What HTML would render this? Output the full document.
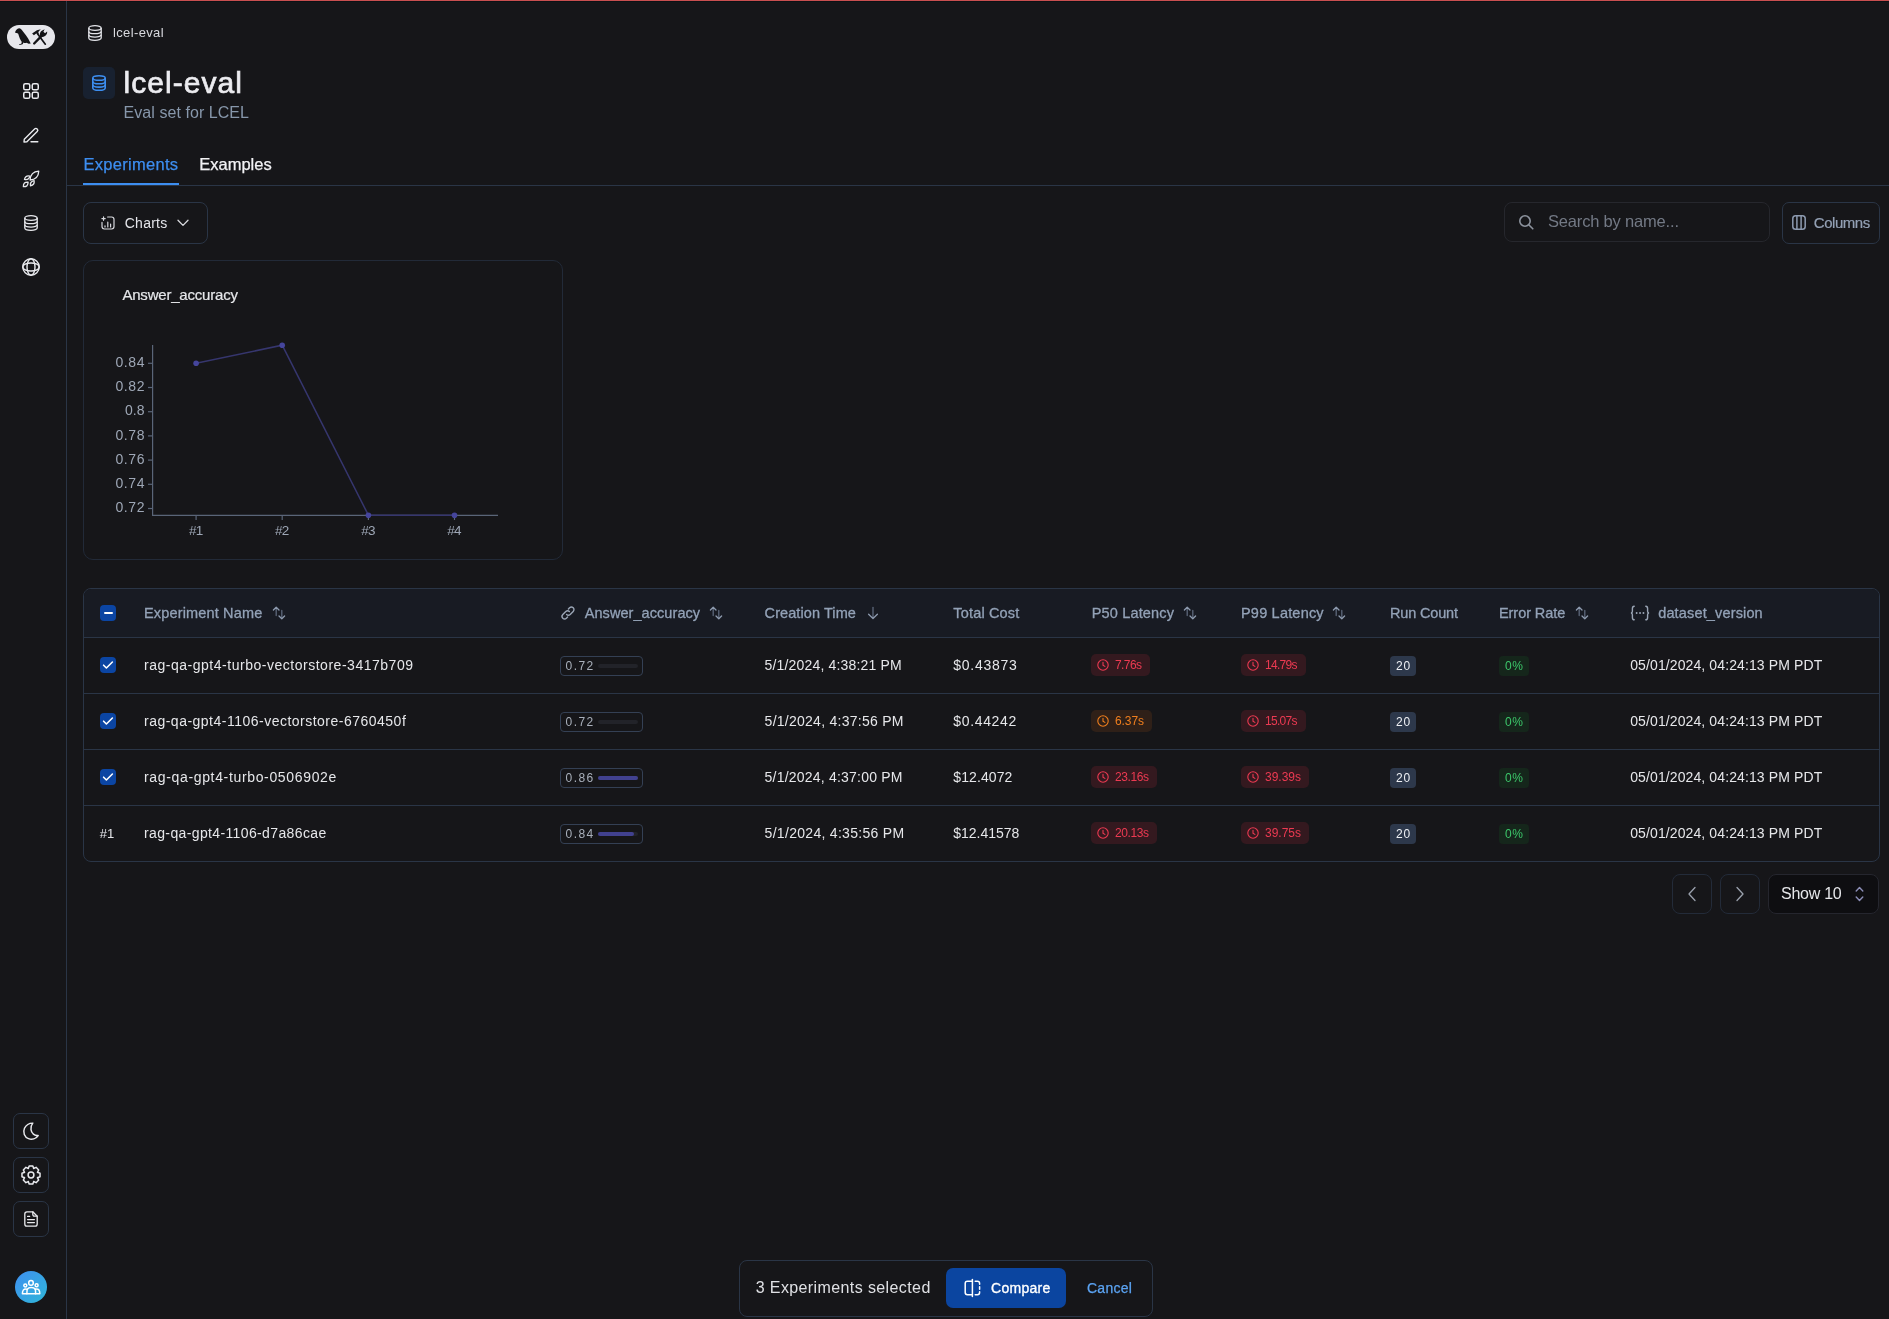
<!DOCTYPE html>
<html><head><meta charset="utf-8"><title>lcel-eval</title>
<style>
*{box-sizing:border-box;margin:0;padding:0}
html,body{width:1889px;height:1319px;overflow:hidden;background:#161619;font-family:"Liberation Sans",sans-serif;color:#e6e7eb}
#root{position:absolute;left:0;top:0;width:1889px;height:1319px;will-change:transform}
.a{position:absolute}
.t{white-space:nowrap;line-height:1}
svg{display:block;overflow:visible}
</style></head><body><div id="root">
<div class="a" style="left:0;top:0;width:1889px;height:1px;background:#c94f50"></div>
<div class="a" style="left:0;top:1px;width:1889px;height:1px;background:#0c1115"></div>
<div class="a" style="left:66px;top:1px;width:1px;height:1318px;background:#2a3546"></div>
<div class="a" style="left:7px;top:25px;width:48px;height:24px;border-radius:12px;background:#e7e7ec"></div>
<svg class="a" style="left:5px;top:22px" width="52" height="30" viewBox="0 0 1889 1090">
<g fill="#141417">
<path d="M365 385 C380 300 440 230 510 225 C570 225 610 280 640 330 L760 480 C820 560 870 650 935 780 L860 790 L780 755 C750 770 700 765 665 745 L650 800 L610 815 L525 835 L510 805 L590 790 L610 725 C555 660 520 560 480 430 C460 400 430 392 400 398 Z"/>
<path d="M985 420 L1160 300 L1300 262 L1240 330 L1205 372 L1235 410 L1185 455 L1145 412 L1050 485 Z"/>
<path d="M1285 525 C1240 440 1280 340 1370 300 L1440 262 L1395 350 L1455 410 L1530 345 C1545 445 1470 520 1365 545 Z"/>
</g>
<g stroke="#141417" stroke-linecap="round">
<path d="M1175 420 L1465 805" stroke-width="62"/>
<path d="M1060 780 L1320 515" stroke-width="85"/>
</g>
</svg>
<svg class="a" style="left:23px;top:83px" width="16" height="16" viewBox="0 0 16 16" fill="none" stroke="#e9eaee" stroke-width="1.5"><rect x="0.75" y="0.75" width="6" height="6" rx="1.6"/><rect x="9.25" y="0.75" width="6" height="6" rx="1.6"/><rect x="0.75" y="9.25" width="6" height="6" rx="1.6"/><rect x="9.25" y="9.25" width="6" height="6" rx="1.6"/></svg>
<svg class="a" style="left:23px;top:127px" width="16" height="16" viewBox="0 0 16 16" fill="none" stroke="#e9eaee" stroke-width="1.4" stroke-linecap="round" stroke-linejoin="round"><path d="M1 15 L1.3 12.2 L11.6 1.9 C12.3 1.2 13.5 1.2 14.2 1.9 C14.9 2.6 14.9 3.8 14.2 4.5 L3.9 14.8 Z"/><path d="M8 14.8 H14.8"/></svg>
<svg class="a" style="left:19px;top:167px" width="24" height="24" viewBox="0 0 1319 1319" fill="none" stroke="#e9eaee" stroke-width="72" stroke-linejoin="round"><path d="M610 715 Q1062 682 1085 230 Q633 263 610 715 Z"/><path d="M300 680 Q537 736 600 500 Q363 444 300 680 Z"/><path d="M630 1030 Q868 989 830 750 Q592 791 630 1030 Z"/><path d="M240 1080 Q509 1099 500 830 Q231 811 240 1080 Z"/></svg>
<svg class="a" style="left:24px;top:215px" width="14" height="16" viewBox="0 0 14 16" preserveAspectRatio="none" fill="none" stroke="#e9eaee" stroke-width="1.3"><ellipse cx="7" cy="3" rx="6.2" ry="2.3"/><path d="M0.8 3 V13 C0.8 14.3 3.6 15.3 7 15.3 C10.4 15.3 13.2 14.3 13.2 13 V3"/><path d="M0.8 6.4 C0.8 7.7 3.6 8.7 7 8.7 C10.4 8.7 13.2 7.7 13.2 6.4"/><path d="M0.8 9.8 C0.8 11.1 3.6 12.1 7 12.1 C10.4 12.1 13.2 11.1 13.2 9.8"/></svg>
<svg class="a" style="left:22px;top:258px" width="18" height="18" viewBox="0 0 18 18" fill="none" stroke="#e9eaee" stroke-width="1.4"><circle cx="9" cy="9" r="8.2"/><ellipse cx="9" cy="9" rx="4" ry="8.2"/><ellipse cx="9" cy="9" rx="8.2" ry="4"/></svg>
<div class="a" style="left:13px;top:1113px;width:36px;height:36px;border:1px solid #2a3546;border-radius:7px"></div>
<div class="a" style="left:13px;top:1157px;width:36px;height:36px;border:1px solid #2a3546;border-radius:7px"></div>
<div class="a" style="left:13px;top:1201px;width:36px;height:36px;border:1px solid #2a3546;border-radius:7px"></div>
<svg class="a" style="left:22px;top:1122px" width="18" height="18" viewBox="0 0 16 16" fill="none" stroke="#e9eaee" stroke-width="1.3" stroke-linejoin="round"><path d="M9.6 1.0 C6.6 1.0 3.6 2.6 2.2 5.6 C0.6 9.2 2.2 13.4 5.8 14.8 C8.8 16.0 12.4 15.0 14.4 12.0 C11.2 12.4 8.4 10.0 8.0 6.8 C7.7 4.6 8.4 2.4 9.6 1.0 Z"/></svg>
<svg class="a" style="left:21px;top:1165px" width="20" height="20" viewBox="0 0 20 20" fill="none" stroke="#e9eaee" stroke-width="1.5" stroke-linejoin="round"><circle cx="10" cy="10" r="2.9"/><path d="M16.45 7.27 L19.02 8.17 L19.02 11.83 L16.45 12.73 L16.49 12.63 L17.67 15.08 L15.08 17.67 L12.63 16.49 L12.73 16.45 L11.83 19.02 L8.17 19.02 L7.27 16.45 L7.37 16.49 L4.92 17.67 L2.33 15.08 L3.51 12.63 L3.55 12.73 L0.98 11.83 L0.98 8.17 L3.55 7.27 L3.51 7.37 L2.33 4.92 L4.92 2.33 L7.37 3.51 L7.27 3.55 L8.17 0.98 L11.83 0.98 L12.73 3.55 L12.63 3.51 L15.08 2.33 L17.67 4.92 L16.49 7.37 Z"/></svg>
<svg class="a" style="left:24px;top:1211px" width="14" height="16" viewBox="0 0 14 16" fill="none" stroke="#e9eaee" stroke-width="1.3" stroke-linejoin="round" stroke-linecap="round"><path d="M8.8 0.8 H3 C1.8 0.8 0.8 1.8 0.8 3 V13 C0.8 14.2 1.8 15.2 3 15.2 H11 C12.2 15.2 13.2 14.2 13.2 13 V5.2 Z"/><path d="M8.8 0.8 V3.6 C8.8 4.5 9.5 5.2 10.4 5.2 H13.2"/><path d="M3.6 5.4 H5.6 M3.6 8.6 H10.4 M3.6 11.6 H10.4"/></svg>
<div class="a" style="left:15px;top:1271px;width:32px;height:32px;border-radius:16px;background:linear-gradient(135deg,#3f8ff0,#2fb6d8)"></div>
<svg class="a" style="left:21px;top:1278px" width="20" height="18" viewBox="0 0 20 18" fill="none" stroke="#ffffff" stroke-width="1.5" stroke-linejoin="round" stroke-linecap="round"><circle cx="10" cy="4.9" r="2.3"/><circle cx="4.3" cy="7.4" r="1.5"/><circle cx="15.6" cy="7.3" r="1.5"/><path d="M1.4 15.7 H18.8 C18.8 12.5 17.6 11.0 15.6 11.0 C15.0 11.0 14.6 11.1 14.3 11.3 C13.6 10.3 12.0 9.6 10.2 9.6 C8.4 9.6 6.9 10.3 6.3 11.3 C6.0 11.1 5.5 11.0 4.8 11.0 C2.7 11.0 1.4 12.5 1.4 15.7 Z"/><path d="M6.3 11.3 C6.0 12.2 5.9 14.0 5.9 15.7 M14.3 11.3 C14.6 12.2 14.6 14 14.6 15.7"/></svg>
<svg class="a" style="left:88px;top:25px" width="14" height="16" viewBox="0 0 14 16" preserveAspectRatio="none" fill="none" stroke="#e4e5ea" stroke-width="1.3"><ellipse cx="7" cy="3" rx="6.2" ry="2.3"/><path d="M0.8 3 V13 C0.8 14.3 3.6 15.3 7 15.3 C10.4 15.3 13.2 14.3 13.2 13 V3"/><path d="M0.8 6.4 C0.8 7.7 3.6 8.7 7 8.7 C10.4 8.7 13.2 7.7 13.2 6.4"/><path d="M0.8 9.8 C0.8 11.1 3.6 12.1 7 12.1 C10.4 12.1 13.2 11.1 13.2 9.8"/></svg>
<div class="a" style="left:83px;top:67px;width:32px;height:32px;border-radius:5px;background:#182130"></div>
<svg class="a" style="left:92px;top:75px" width="14" height="16" viewBox="0 0 14 16" preserveAspectRatio="none" fill="none" stroke="#3d8ef0" stroke-width="1.6"><ellipse cx="7" cy="3" rx="6.2" ry="2.3"/><path d="M0.8 3 V13 C0.8 14.3 3.6 15.3 7 15.3 C10.4 15.3 13.2 14.3 13.2 13 V3"/><path d="M0.8 6.4 C0.8 7.7 3.6 8.7 7 8.7 C10.4 8.7 13.2 7.7 13.2 6.4"/><path d="M0.8 9.8 C0.8 11.1 3.6 12.1 7 12.1 C10.4 12.1 13.2 11.1 13.2 9.8"/></svg>
<div class="a" style="left:67px;top:185px;width:1822px;height:1px;background:#2a3546"></div>
<div class="a" style="left:83px;top:183px;width:96px;height:2px;background:#3d8ef0"></div>
<div class="a" style="left:83px;top:202px;width:125px;height:42px;border:1px solid #2a3546;border-radius:8px"></div>
<svg class="a" style="left:101px;top:216px" width="14" height="14" viewBox="0 0 14 14" fill="none" stroke="#d8d9de" stroke-width="1.2" stroke-linecap="round"><path d="M0.9 2.6 H4.2 M2.55 0.9 V4.3"/><path d="M6.6 1 H10.6 C12 1 13 2 13 3.4 V10.6 C13 12 12 13 10.6 13 H3.4 C2 13 1 12 1 10.6 V6.4"/><path d="M4 9.8 V11 M6.8 6.2 V11 M9.6 8.0 V11"/></svg>
<svg class="a" style="left:177px;top:219px" width="12" height="8" viewBox="0 0 12 8" fill="none" stroke="#d8d9de" stroke-width="1.3" stroke-linecap="round" stroke-linejoin="round"><path d="M1 1.2 L6 6.4 L11 1.2"/></svg>
<div class="a" style="left:1504px;top:202px;width:266px;height:40px;border:1px solid #26272d;border-radius:8px"></div>
<svg class="a" style="left:1518px;top:214px" width="16" height="16" viewBox="0 0 16 16" fill="none" stroke="#8d939e" stroke-width="1.6" stroke-linecap="round"><circle cx="7" cy="7" r="5.2"/><path d="M11 11 L14.8 14.8"/></svg>
<div class="a" style="left:1782px;top:202px;width:98px;height:42px;border:1px solid #2a3546;border-radius:7px"></div>
<svg class="a" style="left:1792px;top:215px" width="14" height="15" viewBox="0 0 14 15" fill="none" stroke="#8d9ab0" stroke-width="1.5"><rect x="0.8" y="0.8" width="12.4" height="13.4" rx="2.8"/><path d="M4.9 0.8 V14.2 M9.1 0.8 V14.2"/></svg>
<div class="a" style="left:83px;top:260px;width:480px;height:300px;border:1px solid #222a38;border-radius:10px"></div>
<svg class="a" style="left:0;top:0" width="600" height="600" viewBox="0 0 600 600">
<g stroke="#5a6578" stroke-width="1.2" fill="none">
<path d="M152.6 345 V515.4 H498"/>
<path d="M148 363.3 H152.6"/><path d="M148 387.5 H152.6"/><path d="M148 411.7 H152.6"/><path d="M148 435.9 H152.6"/><path d="M148 460.1 H152.6"/><path d="M148 484.3 H152.6"/><path d="M148 508.5 H152.6"/>
<path d="M196.1 515.4 V520"/><path d="M282.2 515.4 V520"/><path d="M368.4 515.4 V520"/><path d="M454.5 515.4 V520"/>
</g>
<polyline points="196.1,363.3 282.2,345.2 368.4,515.2 454.5,515.2" fill="none" stroke="#36366e" stroke-width="1.5"/>
<g fill="#45459c">
<circle cx="196.1" cy="363.3" r="2.8"/><circle cx="282.2" cy="345.2" r="2.8"/><circle cx="368.4" cy="515.2" r="2.8"/><circle cx="454.5" cy="515.2" r="2.8"/>
</g>
</svg>
<div class="a" style="left:83px;top:588px;width:1797px;height:274px;border:1px solid #2a3546;border-radius:8px;overflow:hidden"><div style="height:49px;background:#181b23;border-bottom:1px solid #2a3546"></div></div>
<div class="a" style="left:84px;top:693px;width:1795px;height:1px;background:#2a3546"></div>
<div class="a" style="left:84px;top:749px;width:1795px;height:1px;background:#2a3546"></div>
<div class="a" style="left:84px;top:805px;width:1795px;height:1px;background:#2a3546"></div>
<div class="a" style="left:100px;top:605px;width:16px;height:16px;border-radius:4px;background:#0b45a3"></div>
<div class="a" style="left:103.5px;top:612px;width:9px;height:1.6px;border-radius:1px;background:#ffffff"></div>
<svg class="a" style="left:272px;top:606px" width="14" height="14" viewBox="0 0 14 14" fill="none" stroke-width="1.3" stroke-linecap="round" stroke-linejoin="round"><path d="M4.2 9.6 V2 M9.8 4.4 V12" stroke="#5d687b"/><path d="M1.4 4 L4.2 1.2 L7 4 M7 10 L9.8 12.8 L12.6 10" stroke="#8d9aae"/></svg>
<svg class="a" style="left:560px;top:605px" width="16" height="16" viewBox="0 0 16 16" fill="none" stroke="#9aa5b5" stroke-width="1.4" stroke-linecap="round"><path d="M6.6 9.4 C7.6 10.4 9.2 10.4 10.2 9.4 L13.2 6.4 C14.2 5.4 14.2 3.8 13.2 2.8 C12.2 1.8 10.6 1.8 9.6 2.8 L8.4 4"/><path d="M9.4 6.6 C8.4 5.6 6.8 5.6 5.8 6.6 L2.8 9.6 C1.8 10.6 1.8 12.2 2.8 13.2 C3.8 14.2 5.4 14.2 6.4 13.2 L7.6 12"/></svg>
<svg class="a" style="left:709px;top:606px" width="14" height="14" viewBox="0 0 14 14" fill="none" stroke-width="1.3" stroke-linecap="round" stroke-linejoin="round"><path d="M4.2 9.6 V2 M9.8 4.4 V12" stroke="#5d687b"/><path d="M1.4 4 L4.2 1.2 L7 4 M7 10 L9.8 12.8 L12.6 10" stroke="#8d9aae"/></svg>
<svg class="a" style="left:866px;top:606px" width="14" height="14" viewBox="0 0 14 14" fill="none" stroke-width="1.3" stroke-linecap="round" stroke-linejoin="round"><path d="M7 1.4 V11.6" stroke="#5d687b"/><path d="M2.6 8.2 L7 12.5 L11.4 8.2" stroke="#8d9aae"/></svg>
<svg class="a" style="left:1183px;top:606px" width="14" height="14" viewBox="0 0 14 14" fill="none" stroke-width="1.3" stroke-linecap="round" stroke-linejoin="round"><path d="M4.2 9.6 V2 M9.8 4.4 V12" stroke="#5d687b"/><path d="M1.4 4 L4.2 1.2 L7 4 M7 10 L9.8 12.8 L12.6 10" stroke="#8d9aae"/></svg>
<svg class="a" style="left:1332px;top:606px" width="14" height="14" viewBox="0 0 14 14" fill="none" stroke-width="1.3" stroke-linecap="round" stroke-linejoin="round"><path d="M4.2 9.6 V2 M9.8 4.4 V12" stroke="#5d687b"/><path d="M1.4 4 L4.2 1.2 L7 4 M7 10 L9.8 12.8 L12.6 10" stroke="#8d9aae"/></svg>
<svg class="a" style="left:1575px;top:606px" width="14" height="14" viewBox="0 0 14 14" fill="none" stroke-width="1.3" stroke-linecap="round" stroke-linejoin="round"><path d="M4.2 9.6 V2 M9.8 4.4 V12" stroke="#5d687b"/><path d="M1.4 4 L4.2 1.2 L7 4 M7 10 L9.8 12.8 L12.6 10" stroke="#8d9aae"/></svg>
<svg class="a" style="left:1630px;top:605px" width="20" height="16" viewBox="0 0 20 16" fill="none" stroke="#9aa5b5" stroke-width="1.4" stroke-linecap="round"><path d="M4.2 1.2 C2.6 1.2 2.4 2.2 2.4 3.6 V6.2 C2.4 7.2 1.8 8 0.9 8 C1.8 8 2.4 8.8 2.4 9.8 V12.4 C2.4 13.8 2.6 14.8 4.2 14.8"/><path d="M15.8 1.2 C17.4 1.2 17.6 2.2 17.6 3.6 V6.2 C17.6 7.2 18.2 8 19.1 8 C18.2 8 17.6 8.8 17.6 9.8 V12.4 C17.6 13.8 17.4 14.8 15.8 14.8"/><path d="M6.6 8 H6.7 M10 8 H10.1 M13.4 8 H13.5" stroke-width="1.8"/></svg>
<div class="a" style="left:100px;top:657px;width:16px;height:16px;border-radius:4px;background:#0b45a3"></div>
<svg class="a" style="left:100px;top:657px" width="16" height="16" viewBox="0 0 16 16" fill="none" stroke="#ffffff" stroke-width="1.6" stroke-linecap="round" stroke-linejoin="round"><path d="M3.6 8.2 L6.4 11 L12.4 5"/></svg>
<div class="a" style="left:560px;top:656px;width:83px;height:20px;border:1px solid #344054;border-radius:4px"></div>
<div class="a" style="left:598px;top:664px;width:40px;height:4px;border-radius:2px;background:#222329"></div>
<div class="a" style="left:1091px;top:654px;width:59px;height:22px;border-radius:5px;background:#34191f"></div>
<svg class="a" style="left:1097px;top:659px" width="12" height="12" viewBox="0 0 12 12" fill="none" stroke="#ec3a52" stroke-width="1.1" stroke-linecap="round" stroke-linejoin="round"><circle cx="6" cy="6" r="5.2"/><path d="M6 3.2 V6.2 L7.9 7.4"/></svg>
<div class="a" style="left:1241px;top:654px;width:64.5px;height:22px;border-radius:5px;background:#34191f"></div>
<svg class="a" style="left:1247px;top:659px" width="12" height="12" viewBox="0 0 12 12" fill="none" stroke="#ec3a52" stroke-width="1.1" stroke-linecap="round" stroke-linejoin="round"><circle cx="6" cy="6" r="5.2"/><path d="M6 3.2 V6.2 L7.9 7.4"/></svg>
<div class="a" style="left:1390px;top:656px;width:26px;height:20px;border-radius:4px;background:#2d384b"></div>
<div class="a" style="left:1499px;top:656px;width:30px;height:20px;border-radius:4px;background:#15261b"></div>
<div class="a" style="left:100px;top:713px;width:16px;height:16px;border-radius:4px;background:#0b45a3"></div>
<svg class="a" style="left:100px;top:713px" width="16" height="16" viewBox="0 0 16 16" fill="none" stroke="#ffffff" stroke-width="1.6" stroke-linecap="round" stroke-linejoin="round"><path d="M3.6 8.2 L6.4 11 L12.4 5"/></svg>
<div class="a" style="left:560px;top:712px;width:83px;height:20px;border:1px solid #344054;border-radius:4px"></div>
<div class="a" style="left:598px;top:720px;width:40px;height:4px;border-radius:2px;background:#222329"></div>
<div class="a" style="left:1091px;top:710px;width:61px;height:22px;border-radius:5px;background:#2f2018"></div>
<svg class="a" style="left:1097px;top:715px" width="12" height="12" viewBox="0 0 12 12" fill="none" stroke="#f07f1e" stroke-width="1.1" stroke-linecap="round" stroke-linejoin="round"><circle cx="6" cy="6" r="5.2"/><path d="M6 3.2 V6.2 L7.9 7.4"/></svg>
<div class="a" style="left:1241px;top:710px;width:64.5px;height:22px;border-radius:5px;background:#34191f"></div>
<svg class="a" style="left:1247px;top:715px" width="12" height="12" viewBox="0 0 12 12" fill="none" stroke="#ec3a52" stroke-width="1.1" stroke-linecap="round" stroke-linejoin="round"><circle cx="6" cy="6" r="5.2"/><path d="M6 3.2 V6.2 L7.9 7.4"/></svg>
<div class="a" style="left:1390px;top:712px;width:26px;height:20px;border-radius:4px;background:#2d384b"></div>
<div class="a" style="left:1499px;top:712px;width:30px;height:20px;border-radius:4px;background:#15261b"></div>
<div class="a" style="left:100px;top:769px;width:16px;height:16px;border-radius:4px;background:#0b45a3"></div>
<svg class="a" style="left:100px;top:769px" width="16" height="16" viewBox="0 0 16 16" fill="none" stroke="#ffffff" stroke-width="1.6" stroke-linecap="round" stroke-linejoin="round"><path d="M3.6 8.2 L6.4 11 L12.4 5"/></svg>
<div class="a" style="left:560px;top:768px;width:83px;height:20px;border:1px solid #344054;border-radius:4px"></div>
<div class="a" style="left:598px;top:776px;width:40px;height:4px;border-radius:2px;background:#222329"></div>
<div class="a" style="left:598px;top:776px;width:40.0px;height:4px;border-radius:2px;background:#41418f"></div>
<div class="a" style="left:1091px;top:766px;width:66px;height:22px;border-radius:5px;background:#34191f"></div>
<svg class="a" style="left:1097px;top:771px" width="12" height="12" viewBox="0 0 12 12" fill="none" stroke="#ec3a52" stroke-width="1.1" stroke-linecap="round" stroke-linejoin="round"><circle cx="6" cy="6" r="5.2"/><path d="M6 3.2 V6.2 L7.9 7.4"/></svg>
<div class="a" style="left:1241px;top:766px;width:68px;height:22px;border-radius:5px;background:#34191f"></div>
<svg class="a" style="left:1247px;top:771px" width="12" height="12" viewBox="0 0 12 12" fill="none" stroke="#ec3a52" stroke-width="1.1" stroke-linecap="round" stroke-linejoin="round"><circle cx="6" cy="6" r="5.2"/><path d="M6 3.2 V6.2 L7.9 7.4"/></svg>
<div class="a" style="left:1390px;top:768px;width:26px;height:20px;border-radius:4px;background:#2d384b"></div>
<div class="a" style="left:1499px;top:768px;width:30px;height:20px;border-radius:4px;background:#15261b"></div>
<div class="a" style="left:560px;top:824px;width:83px;height:20px;border:1px solid #344054;border-radius:4px"></div>
<div class="a" style="left:598px;top:832px;width:40px;height:4px;border-radius:2px;background:#222329"></div>
<div class="a" style="left:598px;top:832px;width:35.6px;height:4px;border-radius:2px;background:#41418f"></div>
<div class="a" style="left:1091px;top:822px;width:66px;height:22px;border-radius:5px;background:#34191f"></div>
<svg class="a" style="left:1097px;top:827px" width="12" height="12" viewBox="0 0 12 12" fill="none" stroke="#ec3a52" stroke-width="1.1" stroke-linecap="round" stroke-linejoin="round"><circle cx="6" cy="6" r="5.2"/><path d="M6 3.2 V6.2 L7.9 7.4"/></svg>
<div class="a" style="left:1241px;top:822px;width:68px;height:22px;border-radius:5px;background:#34191f"></div>
<svg class="a" style="left:1247px;top:827px" width="12" height="12" viewBox="0 0 12 12" fill="none" stroke="#ec3a52" stroke-width="1.1" stroke-linecap="round" stroke-linejoin="round"><circle cx="6" cy="6" r="5.2"/><path d="M6 3.2 V6.2 L7.9 7.4"/></svg>
<div class="a" style="left:1390px;top:824px;width:26px;height:20px;border-radius:4px;background:#2d384b"></div>
<div class="a" style="left:1499px;top:824px;width:30px;height:20px;border-radius:4px;background:#15261b"></div>
<div class="a" style="left:1672px;top:874px;width:40px;height:40px;border:1px solid #232b39;border-radius:8px"></div>
<div class="a" style="left:1720px;top:874px;width:40px;height:40px;border:1px solid #232b39;border-radius:8px"></div>
<svg class="a" style="left:1687px;top:886px" width="10" height="16" viewBox="0 0 10 16" fill="none" stroke="#9aa1ad" stroke-width="1.3" stroke-linecap="round" stroke-linejoin="round"><path d="M8 1.5 L2 8 L8 14.5"/></svg>
<svg class="a" style="left:1735px;top:886px" width="10" height="16" viewBox="0 0 10 16" fill="none" stroke="#9aa1ad" stroke-width="1.3" stroke-linecap="round" stroke-linejoin="round"><path d="M2 1.5 L8 8 L2 14.5"/></svg>
<div class="a" style="left:1768px;top:874px;width:111px;height:40px;border:1px solid #25262e;border-radius:8px;background:#0e0e11"></div>
<svg class="a" style="left:1855px;top:886px" width="9" height="16" viewBox="0 0 9 16" fill="none" stroke="#8d8fb8" stroke-width="1.4" stroke-linecap="round" stroke-linejoin="round"><path d="M1.2 5 L4.5 1.6 L7.8 5"/><path d="M1.2 11 L4.5 14.4 L7.8 11"/></svg>
<div class="a" style="left:739px;top:1260px;width:414px;height:57px;border:1px solid #2a3546;border-radius:8px;background:#161619"></div>
<div class="a" style="left:946px;top:1268px;width:120px;height:40px;border-radius:7px;background:#0b45a0"></div>
<svg class="a" style="left:964px;top:1279px" width="17" height="18" viewBox="0 0 17 18" fill="none" stroke="#ffffff" stroke-width="1.5" stroke-linecap="round" stroke-linejoin="round"><path d="M8.4 0.6 V17.4"/><path d="M8.4 2.2 H3.4 C2.1 2.2 1.2 3.1 1.2 4.4 V13.6 C1.2 14.9 2.1 15.8 3.4 15.8 H8.4"/><path d="M11.2 2.2 H13.4 C14.7 2.2 15.6 3.1 15.6 4.4 V5.2"/><path d="M15.6 7.8 V10.2"/><path d="M15.6 12.8 V13.6 C15.6 14.9 14.7 15.8 13.4 15.8 H11.2"/></svg>
<div class="a t" style="left:113.00px;top:26.00px;font-size:13px;font-weight:400;color:#d8d9de;letter-spacing:0.364px;">lcel-eval</div>
<div class="a t" style="left:123.50px;top:68.00px;font-size:30px;font-weight:400;color:#ececf0;letter-spacing:1.044px;-webkit-text-stroke:0.7px #ececf0;">lcel-eval</div>
<div class="a t" style="left:123.50px;top:105.00px;font-size:16px;font-weight:400;color:#8797ab;letter-spacing:0.062px;">Eval set for LCEL</div>
<div class="a t" style="left:83.50px;top:156.00px;font-size:16.5px;font-weight:400;color:#3d8ef0;letter-spacing:0.290px;-webkit-text-stroke:0.25px #3d8ef0;">Experiments</div>
<div class="a t" style="left:199.20px;top:156.00px;font-size:16.5px;font-weight:400;color:#f2f2f5;letter-spacing:0.007px;-webkit-text-stroke:0.25px #f2f2f5;">Examples</div>
<div class="a t" style="left:124.70px;top:216.00px;font-size:14px;font-weight:400;color:#e4e5ea;letter-spacing:0.273px;">Charts</div>
<div class="a t" style="left:1548.00px;top:213.00px;font-size:16.5px;font-weight:400;color:#737985;letter-spacing:-0.182px;">Search by name...</div>
<div class="a t" style="left:1813.80px;top:215.00px;font-size:15px;font-weight:400;color:#94a1b5;letter-spacing:-0.465px;-webkit-text-stroke:0.2px #94a1b5;">Columns</div>
<div class="a t" style="left:122.40px;top:287.00px;font-size:15px;font-weight:400;color:#e6e7ea;letter-spacing:-0.199px;-webkit-text-stroke:0.2px #e6e7ea;">Answer_accuracy</div>
<div class="a t" style="left:115.40px;top:355.00px;font-size:14px;font-weight:400;color:#9ea7b6;letter-spacing:0.617px;">0.84</div>
<div class="a t" style="left:115.40px;top:379.00px;font-size:14px;font-weight:400;color:#9ea7b6;letter-spacing:0.617px;">0.82</div>
<div class="a t" style="left:125.00px;top:403.00px;font-size:14px;font-weight:400;color:#9ea7b6;letter-spacing:0.016px;">0.8</div>
<div class="a t" style="left:115.40px;top:428.00px;font-size:14px;font-weight:400;color:#9ea7b6;letter-spacing:0.617px;">0.78</div>
<div class="a t" style="left:115.40px;top:452.00px;font-size:14px;font-weight:400;color:#9ea7b6;letter-spacing:0.617px;">0.76</div>
<div class="a t" style="left:115.40px;top:476.00px;font-size:14px;font-weight:400;color:#9ea7b6;letter-spacing:0.617px;">0.74</div>
<div class="a t" style="left:115.40px;top:500.00px;font-size:14px;font-weight:400;color:#9ea7b6;letter-spacing:0.617px;">0.72</div>
<div class="a t" style="left:188.95px;top:524.00px;font-size:13.5px;font-weight:400;color:#9ea7b6;letter-spacing:-0.731px;">#1</div>
<div class="a t" style="left:275.05px;top:524.00px;font-size:13.5px;font-weight:400;color:#9ea7b6;letter-spacing:-0.731px;">#2</div>
<div class="a t" style="left:361.25px;top:524.00px;font-size:13.5px;font-weight:400;color:#9ea7b6;letter-spacing:-0.731px;">#3</div>
<div class="a t" style="left:447.35px;top:524.00px;font-size:13.5px;font-weight:400;color:#9ea7b6;letter-spacing:-0.731px;">#4</div>
<div class="a t" style="left:144.00px;top:606.00px;font-size:14.5px;font-weight:400;color:#93a2b7;letter-spacing:0.154px;-webkit-text-stroke:0.3px #93a2b7;">Experiment Name</div>
<div class="a t" style="left:584.70px;top:606.00px;font-size:14.5px;font-weight:400;color:#93a2b7;letter-spacing:0.069px;-webkit-text-stroke:0.3px #93a2b7;">Answer_accuracy</div>
<div class="a t" style="left:764.60px;top:606.00px;font-size:14.5px;font-weight:400;color:#93a2b7;letter-spacing:0.086px;-webkit-text-stroke:0.3px #93a2b7;">Creation Time</div>
<div class="a t" style="left:953.30px;top:606.00px;font-size:14.5px;font-weight:400;color:#93a2b7;letter-spacing:0.168px;-webkit-text-stroke:0.3px #93a2b7;">Total Cost</div>
<div class="a t" style="left:1091.80px;top:606.00px;font-size:14.5px;font-weight:400;color:#93a2b7;letter-spacing:0.147px;-webkit-text-stroke:0.3px #93a2b7;">P50 Latency</div>
<div class="a t" style="left:1241.00px;top:606.00px;font-size:14.5px;font-weight:400;color:#93a2b7;letter-spacing:0.197px;-webkit-text-stroke:0.3px #93a2b7;">P99 Latency</div>
<div class="a t" style="left:1390.00px;top:606.00px;font-size:14.5px;font-weight:400;color:#93a2b7;letter-spacing:-0.166px;-webkit-text-stroke:0.3px #93a2b7;">Run Count</div>
<div class="a t" style="left:1499.00px;top:606.00px;font-size:14.5px;font-weight:400;color:#93a2b7;letter-spacing:-0.066px;-webkit-text-stroke:0.3px #93a2b7;">Error Rate</div>
<div class="a t" style="left:1658.20px;top:606.00px;font-size:14.5px;font-weight:400;color:#93a2b7;letter-spacing:0.152px;-webkit-text-stroke:0.3px #93a2b7;">dataset_version</div>
<div class="a t" style="left:144.00px;top:658.00px;font-size:14px;font-weight:400;color:#e6e7ea;letter-spacing:0.519px;">rag-qa-gpt4-turbo-vectorstore-3417b709</div>
<div class="a t" style="left:565.60px;top:660.00px;font-size:12px;font-weight:400;color:#a9b0bb;letter-spacing:1.447px;">0.72</div>
<div class="a t" style="left:764.60px;top:658.00px;font-size:14px;font-weight:400;color:#e6e7ea;letter-spacing:0.164px;">5/1/2024, 4:38:21 PM</div>
<div class="a t" style="left:953.30px;top:658.00px;font-size:14px;font-weight:400;color:#e6e7ea;letter-spacing:0.713px;">$0.43873</div>
<div class="a t" style="left:1115.00px;top:659.00px;font-size:12px;font-weight:400;color:#ec3a52;letter-spacing:-0.590px;">7.76s</div>
<div class="a t" style="left:1265.00px;top:659.00px;font-size:12px;font-weight:400;color:#ec3a52;letter-spacing:-0.706px;">14.79s</div>
<div class="a t" style="left:1395.90px;top:660.00px;font-size:12px;font-weight:400;color:#eef0f4;letter-spacing:0.841px;">20</div>
<div class="a t" style="left:1505.00px;top:660.00px;font-size:12px;font-weight:400;color:#3cc66a;letter-spacing:0.656px;">0%</div>
<div class="a t" style="left:1630.20px;top:658.00px;font-size:14px;font-weight:400;color:#e6e7ea;letter-spacing:0.111px;">05/01/2024, 04:24:13 PM PDT</div>
<div class="a t" style="left:144.00px;top:714.00px;font-size:14px;font-weight:400;color:#e6e7ea;letter-spacing:0.491px;">rag-qa-gpt4-1106-vectorstore-6760450f</div>
<div class="a t" style="left:565.60px;top:716.00px;font-size:12px;font-weight:400;color:#a9b0bb;letter-spacing:1.447px;">0.72</div>
<div class="a t" style="left:764.60px;top:714.00px;font-size:14px;font-weight:400;color:#e6e7ea;letter-spacing:0.259px;">5/1/2024, 4:37:56 PM</div>
<div class="a t" style="left:953.30px;top:714.00px;font-size:14px;font-weight:400;color:#e6e7ea;letter-spacing:0.656px;">$0.44242</div>
<div class="a t" style="left:1115.00px;top:715.00px;font-size:12px;font-weight:400;color:#f07f1e;letter-spacing:-0.090px;">6.37s</div>
<div class="a t" style="left:1265.00px;top:715.00px;font-size:12px;font-weight:400;color:#ec3a52;letter-spacing:-0.706px;">15.07s</div>
<div class="a t" style="left:1395.90px;top:716.00px;font-size:12px;font-weight:400;color:#eef0f4;letter-spacing:0.841px;">20</div>
<div class="a t" style="left:1505.00px;top:716.00px;font-size:12px;font-weight:400;color:#3cc66a;letter-spacing:0.656px;">0%</div>
<div class="a t" style="left:1630.20px;top:714.00px;font-size:14px;font-weight:400;color:#e6e7ea;letter-spacing:0.111px;">05/01/2024, 04:24:13 PM PDT</div>
<div class="a t" style="left:144.00px;top:770.00px;font-size:14px;font-weight:400;color:#e6e7ea;letter-spacing:0.656px;">rag-qa-gpt4-turbo-0506902e</div>
<div class="a t" style="left:565.60px;top:772.00px;font-size:12px;font-weight:400;color:#a9b0bb;letter-spacing:1.447px;">0.86</div>
<div class="a t" style="left:764.60px;top:770.00px;font-size:14px;font-weight:400;color:#e6e7ea;letter-spacing:0.212px;">5/1/2024, 4:37:00 PM</div>
<div class="a t" style="left:953.30px;top:770.00px;font-size:14px;font-weight:400;color:#e6e7ea;letter-spacing:0.085px;">$12.4072</div>
<div class="a t" style="left:1115.00px;top:771.00px;font-size:12px;font-weight:400;color:#ec3a52;letter-spacing:-0.406px;">23.16s</div>
<div class="a t" style="left:1265.00px;top:771.00px;font-size:12px;font-weight:400;color:#ec3a52;letter-spacing:-0.006px;">39.39s</div>
<div class="a t" style="left:1395.90px;top:772.00px;font-size:12px;font-weight:400;color:#eef0f4;letter-spacing:0.841px;">20</div>
<div class="a t" style="left:1505.00px;top:772.00px;font-size:12px;font-weight:400;color:#3cc66a;letter-spacing:0.656px;">0%</div>
<div class="a t" style="left:1630.20px;top:770.00px;font-size:14px;font-weight:400;color:#e6e7ea;letter-spacing:0.111px;">05/01/2024, 04:24:13 PM PDT</div>
<div class="a t" style="left:99.80px;top:827.00px;font-size:13px;font-weight:400;color:#e4e5ea;letter-spacing:-0.069px;">#1</div>
<div class="a t" style="left:144.00px;top:826.00px;font-size:14px;font-weight:400;color:#e6e7ea;letter-spacing:0.370px;">rag-qa-gpt4-1106-d7a86cae</div>
<div class="a t" style="left:565.60px;top:828.00px;font-size:12px;font-weight:400;color:#a9b0bb;letter-spacing:1.447px;">0.84</div>
<div class="a t" style="left:764.60px;top:826.00px;font-size:14px;font-weight:400;color:#e6e7ea;letter-spacing:0.296px;">5/1/2024, 4:35:56 PM</div>
<div class="a t" style="left:953.30px;top:826.00px;font-size:14px;font-weight:400;color:#e6e7ea;letter-spacing:-0.023px;">$12.41578</div>
<div class="a t" style="left:1115.00px;top:827.00px;font-size:12px;font-weight:400;color:#ec3a52;letter-spacing:-0.406px;">20.13s</div>
<div class="a t" style="left:1265.00px;top:827.00px;font-size:12px;font-weight:400;color:#ec3a52;letter-spacing:-0.006px;">39.75s</div>
<div class="a t" style="left:1395.90px;top:828.00px;font-size:12px;font-weight:400;color:#eef0f4;letter-spacing:0.841px;">20</div>
<div class="a t" style="left:1505.00px;top:828.00px;font-size:12px;font-weight:400;color:#3cc66a;letter-spacing:0.656px;">0%</div>
<div class="a t" style="left:1630.20px;top:826.00px;font-size:14px;font-weight:400;color:#e6e7ea;letter-spacing:0.111px;">05/01/2024, 04:24:13 PM PDT</div>
<div class="a t" style="left:1781.00px;top:886.00px;font-size:16px;font-weight:400;color:#e6e7ea;letter-spacing:-0.261px;">Show 10</div>
<div class="a t" style="left:755.70px;top:1280.00px;font-size:16px;font-weight:400;color:#dfe0e4;letter-spacing:0.395px;">3 Experiments selected</div>
<div class="a t" style="left:991.00px;top:1281.00px;font-size:14px;font-weight:400;color:#ffffff;letter-spacing:0.284px;-webkit-text-stroke:0.35px #ffffff;">Compare</div>
<div class="a t" style="left:1087.00px;top:1281.00px;font-size:14px;font-weight:400;color:#5ba3f2;letter-spacing:0.241px;-webkit-text-stroke:0.25px #5ba3f2;">Cancel</div>
</div></body></html>
